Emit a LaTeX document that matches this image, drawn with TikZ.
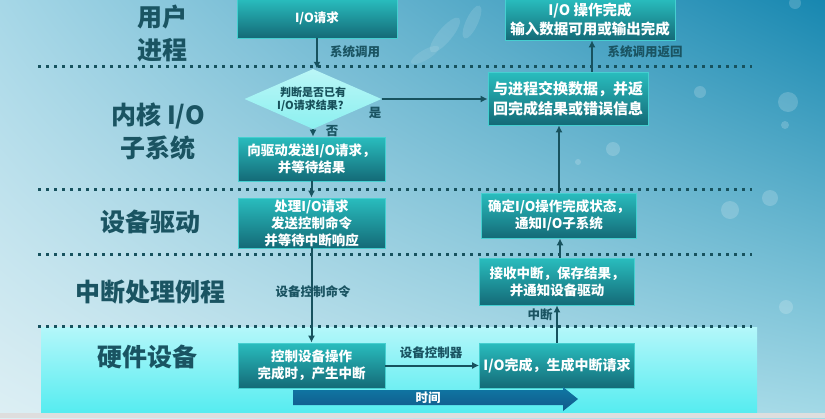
\documentclass[tikz,border=0pt]{standalone}
\usepackage{fontspec}
\setmainfont{Noto Sans CJK SC}
\usetikzlibrary{arrows.meta,shapes.geometric,shadings}
\definecolor{bgul}{HTML}{A6D7E7}
\definecolor{bgur}{HTML}{1787B0}
\definecolor{bgll}{HTML}{DDEFF4}
\definecolor{bglr}{HTML}{A4DAE7}
\definecolor{bandtop}{HTML}{B4F7FA}
\definecolor{bandbot}{HTML}{55ECF0}
\definecolor{boxtop}{HTML}{29BDBE}
\definecolor{boxbot}{HTML}{146A77}
\definecolor{boxedge}{HTML}{45CFD0}
\definecolor{linec}{HTML}{17525E}
\definecolor{labc}{HTML}{1A5462}
\definecolor{diac}{HTML}{8CF0F0}
\definecolor{diatext}{HTML}{17505A}
\definecolor{timetop}{HTML}{0F78A4}
\definecolor{timebot}{HTML}{12588A}
\begin{document}
\begin{tikzpicture}[x=1pt,y=-1pt,
  box/.style={draw=boxedge, line width=0.7pt, top color=boxtop, bottom color=boxbot,
    text=white, font=\fontsize{13.5}{17}\selectfont\bfseries, align=center, inner sep=0pt},
  side/.style={text=labc, font=\fontsize{25}{33}\selectfont\bfseries, align=center},
  lbl/.style={text=labc, font=\fontsize{12.5}{14}\selectfont\bfseries, inner sep=0pt},
  arr/.style={draw=linec, line width=2pt, -{Latex[length=7pt,width=7pt]}},
  dotline/.style={draw=linec, line width=3pt, dash pattern=on 3pt off 5pt},
  bokeh/.style={fill=white, fill opacity=0.18}
]
\useasboundingbox (0,0) rectangle (825,418);
% background
\shade[upper left=bgul, upper right=bgur, lower left=bgll, lower right=bglr] (0,0) rectangle (825,418);
\foreach \cx/\cy/\r in {795/3/6, 700/92/6, 788/102/10, 785/125/4, 613/149/7, 578/162/3, 770/198/8, 730/210/9, 786/307/7}
  \fill[bokeh] (\cx,\cy) circle (\r);
\fill[white, fill opacity=0.12, rotate around={-40:(445,35)}] (445,35) ellipse (7 and 22);
\fill[white, fill opacity=0.12, rotate around={-25:(472,22)}] (472,22) ellipse (6 and 18);
\fill[white, fill opacity=0.10, rotate around={-60:(425,55)}] (425,55) ellipse (5 and 16);
% hardware band
\shade[top color=bandtop, bottom color=bandbot] (41,327) rectangle (757,413);
\fill[black!13] (0,413) rectangle (825,418);
% dotted separators
\foreach \yy in {66,189,254,326}
  \draw[dotline] (38,\yy) -- (752,\yy);
% side labels
\node[side] (s1) at (162,33) {用户\\进程};
\node[side] (s2) at (158,131) {内核 I/O\\子系统};
\node[side] (s3) at (150,222) {设备驱动};
\node[side] (s4) at (150,292) {中断处理例程};
\node[side] (s5) at (147,357) {硬件设备};
% boxes
\node[box, minimum width=160pt, minimum height=39pt, font=\fontsize{12.5}{15}\selectfont\bfseries] (req) at (317,18.5) {I/O请求};
\node[shape=diamond, top color=diac!60!white, bottom color=diac, minimum width=137pt, minimum height=60pt, aspect=2.3, inner sep=0pt,
  text=diatext, font=\fontsize{11}{13}\selectfont\bfseries, align=center] (dia) at (313,99) {判断是否已有\\I/O请求结果？};
\node[box, minimum width=147pt, minimum height=44pt] (b3) at (311.5,159) {向驱动发送I/O请求，\\并等待结果};
\node[box, minimum width=147pt, minimum height=50pt] (b4) at (311.5,223) {处理I/O请求\\发送控制命令\\并等待中断响应};
\node[box, minimum width=147pt, minimum height=45pt] (b5) at (311.5,365.5) {控制设备操作\\完成时，产生中断};
\node[box, minimum width=155pt, minimum height=45pt, font=\fontsize{14}{17}\selectfont\bfseries] (b6) at (557,365.5) {I/O完成，生成中断请求};
\node[box, minimum width=155pt, minimum height=47pt] (b7) at (557,281.5) {接收中断，保存结果，\\并通知设备驱动};
\node[box, minimum width=155pt, minimum height=45pt] (b8) at (559,215.5) {确定I/O操作完成状态，\\通知I/O子系统};
\node[box, minimum width=160pt, minimum height=53pt, font=\fontsize{15}{20}\selectfont\bfseries] (b9) at (568,98.5) {与进程交换数据，并返\\回完成结果或错误信息};
\node[box, minimum width=170pt, minimum height=41pt, font=\fontsize{14.5}{19}\selectfont\bfseries] (b10) at (590,19.5) {I/O 操作完成\\输入数据可用或输出完成};
% connectors
\draw[arr] (req.south) -- (req.south |- dia.north);
\node[lbl] (l1) at (355,52) {系统调用};
\draw[arr] (dia.south) -- (dia.south |- b3.north);
\node[lbl] (l2) at (332,131) {否};
\draw[arr] (dia.east) -- (dia.east -| b9.west);
\node[lbl] (l3) at (375,113) {是};
\draw[arr] (b3.south) -- (b4.north);
\draw[arr] (b4.south) -- (b5.north);
\node[lbl] (l4) at (313,292) {设备控制命令};
\draw[arr] (b5.east) -- (b6.west);
\node[lbl] (l5) at (431,353) {设备控制器};
\draw[arr] (b6.north) -- (b6.north |- b7.south);
\node[lbl] (l6) at (540,315) {中断};
\draw[arr] ([xshift=3pt]b7.north) -- ([xshift=3pt]b7.north |- b8.south);
\draw[arr] (b8.north) -- (b8.north |- b9.south);
\draw[arr] ([xshift=24pt]b9.north) -- ([xshift=24pt]b9.north |- b10.south);
\node[lbl] (l7) at (645,52) {系统调用返回};
% time arrow
\shade[top color=timetop, bottom color=timebot] (293,390) -- (563,390) -- (563,387) -- (578,399) -- (563,411) -- (563,405) -- (293,405) -- cycle;
\node[text=white, font=\fontsize{12.5}{14}\selectfont\bfseries, inner sep=0pt] (time) at (428,398) {时间};
\end{tikzpicture}
\end{document}
